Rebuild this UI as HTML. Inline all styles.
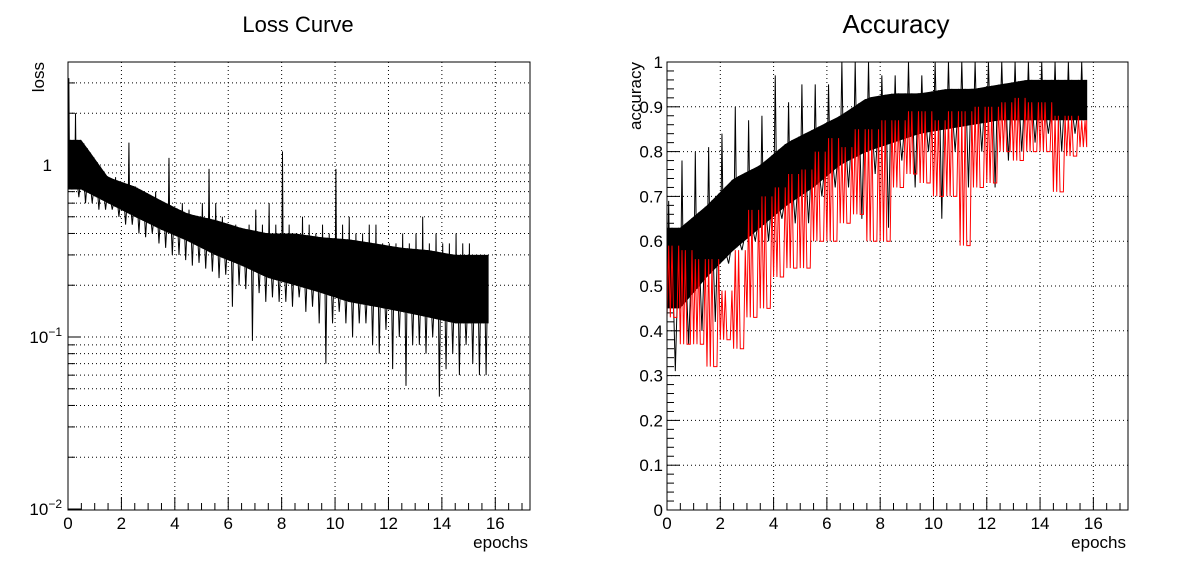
<!DOCTYPE html>
<html><head><meta charset="utf-8"><style>
html,body{margin:0;padding:0;background:#fff;}
svg{display:block;font-family:"Liberation Sans",Arial,sans-serif;}
</style></head><body>
<svg id="c" width="1196" height="572" viewBox="0 0 1196 572"></svg>
<script>
// ---- data (bin envelopes) ----
const lastEpoch = 15.75;
const lossBinWidth = 0.25;
const lossHi = [3.2,2.0,1.1,0.95,1.0,0.8,0.8,0.85,0.75,1.35,0.75,0.7,0.65,0.7,0.55,1.1,0.55,0.6,0.55,0.5,0.6,0.95,0.6,0.5,0.45,0.45,0.4,0.45,0.55,0.45,0.6,0.45,1.2,0.45,0.4,0.5,0.45,0.4,0.45,0.4,0.95,0.45,0.5,0.4,0.4,0.45,0.45,0.35,0.35,0.35,0.4,0.35,0.4,0.5,0.35,0.4,0.35,0.35,0.4,0.35,0.35,0.3,0.3];
const lossLo = [0.75,0.65,0.6,0.6,0.55,0.55,0.55,0.5,0.45,0.45,0.4,0.38,0.4,0.35,0.33,0.3,0.3,0.28,0.26,0.27,0.25,0.24,0.22,0.23,0.15,0.2,0.19,0.095,0.18,0.16,0.17,0.16,0.16,0.15,0.17,0.14,0.15,0.12,0.07,0.12,0.14,0.12,0.1,0.12,0.12,0.09,0.08,0.11,0.065,0.1,0.052,0.09,0.09,0.08,0.1,0.045,0.065,0.08,0.06,0.09,0.07,0.06,0.06];
const coreBinWidth = 1;
const lossCoreHi = [1.4,0.85,0.75,0.62,0.52,0.48,0.43,0.4,0.4,0.38,0.37,0.35,0.33,0.32,0.3,0.3];
const lossCoreLo = [0.72,0.6,0.5,0.42,0.36,0.3,0.26,0.22,0.2,0.18,0.16,0.15,0.14,0.13,0.12,0.12];
const accBinWidth = 0.5;
const accHi = [0.69,0.78,0.8,0.81,0.84,0.9,0.87,0.88,0.97,0.91,0.95,0.95,0.95,1.0,1.0,1.0,0.97,0.97,1.0,0.97,1.0,1.0,1.0,1.0,1.0,1.0,1.0,1.0,1.0,1.0,1.0,1.0];
const accLo = [0.31,0.37,0.4,0.42,0.55,0.58,0.6,0.6,0.65,0.64,0.64,0.7,0.72,0.72,0.65,0.75,0.63,0.78,0.72,0.8,0.65,0.8,0.72,0.8,0.72,0.78,0.8,0.82,0.84,0.8,0.84,0.87];
const accCoreHi = [0.63,0.68,0.74,0.77,0.82,0.85,0.88,0.92,0.93,0.93,0.94,0.94,0.95,0.96,0.96,0.96];
const accCoreLo = [0.45,0.52,0.58,0.63,0.68,0.72,0.77,0.8,0.82,0.84,0.85,0.86,0.87,0.87,0.87,0.87];
const valHi = [0.59,0.58,0.56,0.56,0.49,0.58,0.67,0.70,0.72,0.75,0.76,0.80,0.83,0.81,0.85,0.85,0.87,0.87,0.89,0.89,0.87,0.89,0.89,0.9,0.9,0.91,0.92,0.91,0.91,0.88,0.88,0.87];
const valLo = [0.43,0.37,0.37,0.32,0.38,0.36,0.43,0.45,0.52,0.54,0.54,0.6,0.6,0.64,0.66,0.6,0.6,0.72,0.75,0.73,0.7,0.7,0.59,0.72,0.73,0.8,0.78,0.8,0.8,0.71,0.79,0.81];
const xTicks = [0,2,4,6,8,10,12,14,16];
const accTicks = [0,0.1,0.2,0.3,0.4,0.5,0.6,0.7,0.8,0.9,1];

const NS="http://www.w3.org/2000/svg";
const svg=document.getElementById('c');
function mk(tag,attrs,parent){const e=document.createElementNS(NS,tag);for(const k in attrs)e.setAttribute(k,attrs[k]);(parent||svg).appendChild(e);return e;}

const TOP=62,BOT=510,XMAX=17.3;
function panel(L,R,yf,yTickList,yMinor,yLabelFn,name){
  const g=mk('g',{});
  
  
  const xs=v=>L+(R-L)*v/XMAX;
  xTicks.forEach(v=>{if(v>0){const l=mk('line',{x1:xs(v),x2:xs(v),y1:TOP,y2:BOT,stroke:'#000','stroke-width':1,'stroke-dasharray':'1,3'},g);
    }});
  yMinor.grid.forEach(v=>{const y=yf(v);if(y>TOP+1&&y<BOT-1){const l=mk('line',{x1:L,x2:R,y1:y,y2:y,stroke:'#000','stroke-width':1,'stroke-dasharray':'1,3'},g);
    }});
  for(let v=0;v<=XMAX;v+=0.5){const maj=Math.abs(v%2)<1e-9;mk('line',{x1:xs(v),x2:xs(v),y1:BOT,y2:BOT-(maj?13:7),stroke:'#000'},g);}
  xTicks.forEach(v=>{const t=mk('text',{x:xs(v),y:BOT+19,'font-size':17,'text-anchor':'middle'},g);t.textContent=v;
    });
  yMinor.ticks.forEach(v=>{const y=yf(v);if(y>=TOP-0.5&&y<=BOT+0.5)mk('line',{x1:L,x2:L+(yMinor.isMaj(v)?13:7),y1:y,y2:y,stroke:'#000'},g);});
  yTickList.forEach(v=>yLabelFn(v,g));
  return {g,xs};
}
function binX(i,bw,f){return Math.min(i*bw+bw*f,lastEpoch);}
function coreAt(arr,x,log){
  let c=x/coreBinWidth-0.5;if(c<0)c=0;let i=Math.floor(c);let f=c-i;
  if(i>=arr.length-1){i=arr.length-2;f=1;}
  if(log) return Math.exp(Math.log(arr[i])*(1-f)+Math.log(arr[i+1])*f);
  return arr[i]*(1-f)+arr[i+1]*f;
}
function series(g,xs,yf,hi,lo,coreHi,coreLo,bw,color,name,log){
  if(coreHi){
    let pts=[];const N=64;
    for(let k=0;k<=N;k++){const x=lastEpoch*k/N;pts.push(xs(x)+','+yf(coreAt(coreHi,x,log)));}
    for(let k=N;k>=0;k--){const x=lastEpoch*k/N;pts.push(xs(x)+','+yf(coreAt(coreLo,x,log)));}
    const p=mk('polygon',{points:pts.join(' '),fill:color},g);
    
  }
  const sub=8, pts=[];
  hi.forEach((v,i)=>{
    for(let k=0;k<sub;k++){
      const xv=binX(i,bw,k/sub), x=xs(xv);
      let y;
      if(k===1) y=v;
      else if(k===5) y=lo[i];
      else if(coreHi) y=(k%2)?coreAt(coreHi,xv,log):coreAt(coreLo,xv,log);
      else y=(k%2)?v:lo[i];
      pts.push(x+','+yf(y));
    }
  });
  const pl=mk('polyline',{points:pts.join(' '),fill:'none',stroke:color,'stroke-width':1},g);
  
}

// ---- Loss panel ----
const L1=68,R1=530;
const yLog=v=>165-172*Math.log10(v);
const logMinor=[];for(let e=-2;e<=0;e++)for(let m=1;m<=9;m++)logMinor.push(m*Math.pow(10,e));
const p1=panel(L1,R1,yLog,[0.01,0.1,1],{grid:logMinor,ticks:logMinor,isMaj:v=>[0.01,0.1,1].some(a=>Math.abs(a-v)<1e-9)},(v,g)=>{
  const y=yLog(v);
  if(v===1){const t=mk('text',{x:L1-16,y:y+6,'font-size':17,'text-anchor':'end'},g);t.textContent='1';}
  else{const t=mk('text',{x:L1-6,y:y+6,'font-size':17,'text-anchor':'end'},g);
    t.innerHTML='10<tspan dy="-7" font-size="12">'+(v===0.1?'−1':'−2')+'</tspan>';}
},'loss-panel');
series(p1.g,p1.xs,yLog,lossHi,lossLo,lossCoreHi,lossCoreLo,lossBinWidth,'#000','loss-series',true);
mk('rect',{x:L1,y:TOP,width:R1-L1,height:BOT-TOP,fill:'none',stroke:'#000','stroke-width':1},p1.g);
let t;
t=mk('text',{x:298,y:32,'font-size':22,'text-anchor':'middle'});t.textContent='Loss Curve';
t=mk('text',{x:0,y:0,'font-size':17,'text-anchor':'end',transform:'translate(44,62) rotate(-90)'});t.textContent='loss';
t=mk('text',{x:R1-2,y:548,'font-size':17,'text-anchor':'end'});t.textContent='epochs';

// ---- Accuracy panel ----
const L2=667,R2=1128;
const yLin=v=>BOT-(BOT-TOP)*v;
const accMinor=[];for(let i=0;i<=50;i++)accMinor.push(i/50);
const p2=panel(L2,R2,yLin,accTicks,{grid:accTicks,ticks:accMinor,isMaj:v=>Math.abs(v*10-Math.round(v*10))<1e-9},(v,g)=>{
  const t=mk('text',{x:L2-4,y:yLin(v)+6,'font-size':17,'text-anchor':'end'},g);t.textContent=(v===0||v===1)?String(v):v.toFixed(1);
  
},'accuracy-panel');
series(p2.g,p2.xs,yLin,accHi,accLo,accCoreHi,accCoreLo,accBinWidth,'#000','train-accuracy-series',false);
series(p2.g,p2.xs,yLin,valHi,valLo,null,null,accBinWidth,'#f00','val-accuracy-series',false);
mk('rect',{x:L2,y:TOP,width:R2-L2,height:BOT-TOP,fill:'none',stroke:'#000','stroke-width':1},p2.g);
t=mk('text',{x:896,y:33,'font-size':26,'text-anchor':'middle'});t.textContent='Accuracy';
t=mk('text',{x:0,y:0,'font-size':17,'text-anchor':'end',transform:'translate(641,62) rotate(-90)'});t.textContent='accuracy';
t=mk('text',{x:R2-2,y:548,'font-size':17,'text-anchor':'end'});t.textContent='epochs';
</script>
</body></html>
